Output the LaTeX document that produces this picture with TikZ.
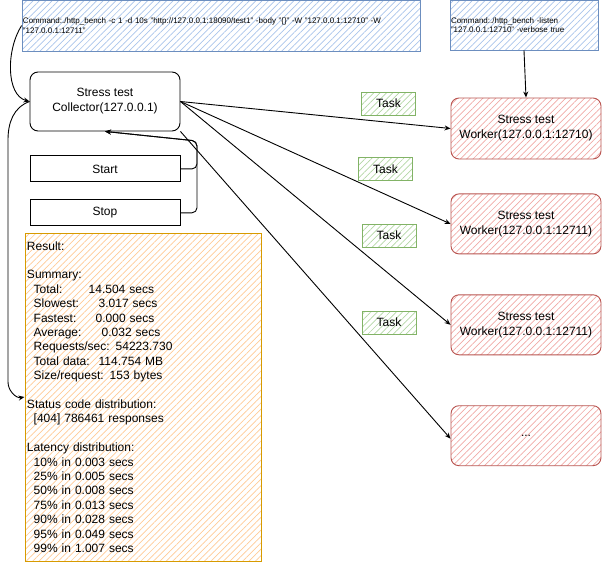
\documentclass[tikz,border=0pt]{standalone}
\usepackage{fontspec}
\setmainfont{Liberation Sans}
\usetikzlibrary{arrows.meta, positioning, patterns.meta}
\definecolor{cmdline}{HTML}{6C8EBF}
\definecolor{cmdhatch}{HTML}{A9C4EB}
\definecolor{workerline}{HTML}{B85450}
\definecolor{workerhatch}{HTML}{F0A9A6}
\definecolor{taskline}{HTML}{82B366}
\definecolor{taskhatch}{HTML}{B3D6A4}
\definecolor{resultline}{HTML}{D79B00}
\definecolor{resulthatch}{HTML}{FFCA96}
\newcommand{\resindent}{\hspace*{6.7pt}}

\begin{document}
\begin{tikzpicture}[
  x=1pt, y=-1pt,
  every node/.style={font=\fontsize{12}{15}\selectfont, inner sep=0pt},
  hatch/.style={pattern={Lines[angle=45, distance=4.5pt, line width=0.7pt]}},
  cmdbox/.style={rectangle, draw=cmdline, line width=0.9pt, hatch,
    pattern color=cmdhatch, align=left, inner xsep=1pt,
    font=\fontsize{8}{9.5}\selectfont},
  plainbox/.style={rectangle, draw, line width=0.9pt, fill=white,
    minimum width=150pt, align=center},
  workerbox/.style={rectangle, draw=workerline, line width=0.9pt,
    rounded corners=8pt, hatch, pattern color=workerhatch,
    minimum width=150pt, minimum height=60pt, align=center},
  taskbox/.style={rectangle, draw=taskline, line width=0.9pt, hatch,
    pattern color=taskhatch, minimum width=54pt, minimum height=23pt},
  resultbox/.style={rectangle, draw=resultline, line width=1pt, hatch,
    pattern color=resulthatch, minimum width=236pt, minimum height=328pt,
    text width=232pt, inner xsep=2pt, align=left,
    font=\fontsize{12}{14.4}\selectfont},
  flow/.style={draw, line width=0.9pt, -{Stealth[open, length=6pt, width=5pt]}}
]
\useasboundingbox (0,0) rectangle (603,562);

\node[cmdbox, minimum width=398pt, minimum height=51pt, text width=396pt] (benchcmd) at (221,25.5)
  {Command:./http\_bench -c 1 -d 10s "http://127.0.0.1:18090/test1" -body "\{\}" -W "127.0.0.1:12710" -W\\"127.0.0.1:12711"};
\node[cmdbox, minimum width=148pt, minimum height=50pt, text width=146pt] (listencmd) at (524,25)
  {Command:./http\_bench -listen\\"127.0.0.1:12710" -verbose true};

\node[plainbox, rounded corners=8pt, minimum height=59pt] (collector) at (105,101.5)
  {Stress test\\Collector(127.0.0.1)};
\node[plainbox, minimum height=26pt, below=24pt of collector] (start) {Start};
\node[plainbox, minimum height=26pt, below=17pt of start] (stop) {Stop};

\node[resultbox] (result) at (143,397) {Result:\\[14.4pt]
Summary:\\
\resindent\makebox[55pt][l]{Total:}14.504 secs\\
\resindent\makebox[65pt][l]{Slowest:}3.017 secs\\
\resindent\makebox[62pt][l]{Fastest:}0.000 secs\\
\resindent\makebox[68pt][l]{Average:}0.032 secs\\
\resindent Requests/sec: 54223.730\\
\resindent\makebox[65pt][l]{Total data:}114.754 MB\\
\resindent Size/request: 153 bytes\\[14.4pt]
Status code distribution:\\
\resindent [404] 786461 responses\\[14.4pt]
Latency distribution:\\
\resindent 10\% in 0.003 secs\\
\resindent 25\% in 0.005 secs\\
\resindent 50\% in 0.008 secs\\
\resindent 75\% in 0.013 secs\\
\resindent 90\% in 0.028 secs\\
\resindent 95\% in 0.049 secs\\
\resindent 99\% in 1.007 secs};

\node[workerbox, minimum height=61pt] (worker1) at (526,128.5) {Stress test\\Worker(127.0.0.1:12710)};
\node[workerbox, below=34pt of worker1] (worker2) {Stress test\\Worker(127.0.0.1:12711)};
\node[workerbox, below=40pt of worker2] (worker3) {Stress test\\Worker(127.0.0.1:12711)};
\node[workerbox, below=50pt of worker3] (worker4) {...};

\coordinate (bend) at (197,141);

\draw[flow] (listencmd.south) -- (worker1.north);
\draw[flow] (collector.east) -- (worker1.west);
\draw[flow] (collector.east) -- (worker2.west);
\draw[flow] (collector.east) -- (worker3.west);
\draw[flow] (collector.south east) -- ([yshift=-3pt]worker4.west);
\draw[flow, rounded corners=5pt] (start.east) -| (bend) -- (collector.south);
\draw[flow, rounded corners=5pt] (stop.east) -| (bend) -- (collector.south);
\draw[flow] (benchcmd.west) .. controls (6,50) and (6,95) .. (collector.west);
\draw[flow] (collector.west) to[out=200, in=90] (8,140) -- (8,382) to[out=-90, in=190] (result.west);

\node[taskbox] (task1) at (388.5,103.5) {Task};
\node[taskbox] (task2) at (385.5,169) {Task};
\node[taskbox] (task3) at (389,235.5) {Task};
\node[taskbox] (task4) at (389,322.5) {Task};
\end{tikzpicture}
\end{document}
